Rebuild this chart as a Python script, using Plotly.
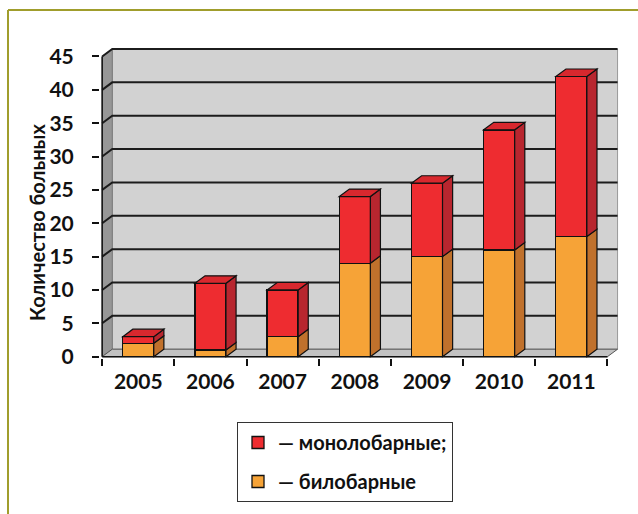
import plotly.graph_objects as go

# Patients per year, split by tumour spread
YEARS = ["2005", "2006", "2007", "2008", "2009", "2010", "2011"]
BILOBAR = [2, 1, 3, 14, 15, 16, 18]
MONOLOBAR = [1, 10, 7, 10, 11, 18, 24]
Y_TICKS = [0, 5, 10, 15, 20, 25, 30, 35, 40, 45]
Y_TITLE = "Количество больных"
NAME_MONO = "— монолобарные;"
NAME_BI = "— билобарные"

# geometry / style
W, H = 638, 514
ML, MR, MB = 100, 19, 156
BAR_W = 0.43
DX, DY = 0.14, 1.12          # pseudo-3D depth offset in data units
X0, X1 = -0.5, len(YEARS) - 0.5
Y_MAX = max(Y_TICKS)
Y_RANGE = [-0.2, Y_MAX + DY + 0.3]
PX_PER_Y = 6.68
MT = H - MB - round((Y_RANGE[1] - Y_RANGE[0]) * PX_PER_Y)

RED = "#ee2c30"
RED_SIDE = "#b8262f"
RED_TOP = "#d8282e"
ORANGE = "#f6a337"
ORANGE_SIDE = "#c0712c"
WALL = "#d2d2d2"
LEFT_WALL = "#979797"
FLOOR = "#c2c2c2"
EDGE = "#111111"
FONT = "Lato"

fig = go.Figure()

fig.add_trace(go.Bar(
    x=YEARS, y=BILOBAR, name=NAME_BI, width=BAR_W,
    marker=dict(color=ORANGE, line=dict(color=EDGE, width=1.3)),
    legendrank=2, legendgroup="bi",
))
fig.add_trace(go.Bar(
    x=YEARS, y=MONOLOBAR, name=NAME_MONO, width=BAR_W,
    marker=dict(color=RED, line=dict(color=EDGE, width=1.3)),
    legendrank=1, legendgroup="mono",
))

shapes = []


def poly(pts):
    return "M " + " L ".join(f"{x},{y}" for x, y in pts) + " Z"


# back wall, left wall and floor
shapes.append(dict(type="path", layer="below", xref="x", yref="y",
                   path=poly([(X0 + DX, DY), (X1 + DX, DY), (X1 + DX, Y_MAX + DY), (X0 + DX, Y_MAX + DY)]),
                   fillcolor=WALL, line=dict(color="#9a9a9a", width=1)))
shapes.append(dict(type="path", layer="below", xref="x", yref="y",
                   path=poly([(X0, 0), (X0 + DX, DY), (X0 + DX, Y_MAX + DY), (X0, Y_MAX)]),
                   fillcolor=LEFT_WALL, line=dict(color="#7a7a7a", width=1)))
shapes.append(dict(type="path", layer="below", xref="x", yref="y",
                   path=poly([(X0, 0), (X1, 0), (X1 + DX, DY), (X0 + DX, DY)]),
                   fillcolor=FLOOR, line=dict(color="#555555", width=1)))

# gridlines running across the left wall and the back wall
for v in Y_TICKS[1:]:
    shapes.append(dict(type="path", layer="below", xref="x", yref="y",
                       path=f"M {X0},{v} L {X0 + DX},{v + DY} L {X1 + DX},{v + DY}",
                       line=dict(color="#1c1c1c", width=2)))

# front axis lines
shapes.append(dict(type="line", layer="above", xref="x", yref="y",
                   x0=X0, y0=0, x1=X0, y1=Y_MAX, line=dict(color=EDGE, width=1.5)))
shapes.append(dict(type="line", layer="above", xref="x", yref="y",
                   x0=X0, y0=0, x1=X1, y1=0, line=dict(color=EDGE, width=1.5)))

# side and top faces of each stacked bar
for i, (b, m) in enumerate(zip(BILOBAR, MONOLOBAR)):
    left, right = i - BAR_W / 2, i + BAR_W / 2
    tot = b + m
    shapes.append(dict(type="path", layer="above", xref="x", yref="y",
                       path=poly([(right, 0), (right + DX, DY), (right + DX, b + DY), (right, b)]),
                       fillcolor=ORANGE_SIDE, line=dict(color=EDGE, width=1.2)))
    shapes.append(dict(type="path", layer="above", xref="x", yref="y",
                       path=poly([(right, b), (right + DX, b + DY), (right + DX, tot + DY), (right, tot)]),
                       fillcolor=RED_SIDE, line=dict(color=EDGE, width=1.2)))
    shapes.append(dict(type="path", layer="above", xref="x", yref="y",
                       path=poly([(left, tot), (left + DX, tot + DY), (right + DX, tot + DY), (right, tot)]),
                       fillcolor=RED_TOP, line=dict(color=EDGE, width=1.2)))

# olive frame around the figure (top and left edges)
pw = W - ML - MR
ph = H - MT - MB


def px_x(p):
    return (p - ML) / pw


def px_y(p):
    return (H - MB - p) / ph


FRAME = "#a09d2c"
shapes.append(dict(type="line", xref="paper", yref="paper",
                   x0=px_x(8), y0=px_y(10), x1=px_x(W + 5), y1=px_y(10),
                   line=dict(color=FRAME, width=2)))
shapes.append(dict(type="line", xref="paper", yref="paper",
                   x0=px_x(8), y0=px_y(10), x1=px_x(8), y1=px_y(H + 5),
                   line=dict(color=FRAME, width=2)))

# vertical axis caption
annotations = [dict(
    text=Y_TITLE, textangle=-90, showarrow=False,
    xref="paper", yref="paper", x=px_x(37), y=px_y(223),
    xanchor="center", yanchor="middle",
    font=dict(family=FONT, size=20, weight="bold", color="#111111"),
)]

fig.update_layout(
    width=W, height=H,
    margin=dict(l=ML, r=MR, t=MT, b=MB),
    barmode="stack",
    paper_bgcolor="white",
    plot_bgcolor="white",
    shapes=shapes,
    annotations=annotations,
    font=dict(family=FONT, color="#111111"),
    showlegend=True,
    legend=dict(
        x=px_x(237), y=px_y(422), xanchor="left", yanchor="top",
        bordercolor="#333333", borderwidth=1, bgcolor="white",
        font=dict(family=FONT, size=20, weight="bold", color="#111111"),
        traceorder="grouped", tracegroupgap=10,
    ),
    xaxis=dict(
        type="category", range=[X0 - 0.03, X1 + DX + 0.02],
        tickson="boundaries", ticks="outside", ticklen=7, tickwidth=1.5, tickcolor=EDGE,
        showgrid=False, showline=False, zeroline=False,
        tickfont=dict(family=FONT, size=21, weight="bold", color="#111111"),
        ticklabelstandoff=9,
    ),
    yaxis=dict(
        range=Y_RANGE, tickvals=Y_TICKS,
        ticks="outside", ticklen=7, tickwidth=1.5, tickcolor=EDGE,
        showgrid=False, showline=False, zeroline=False,
        tickfont=dict(family=FONT, size=21, weight="bold", color="#111111"),
        ticklabelstandoff=14,
    ),
)

fig.write_html("out.html")
